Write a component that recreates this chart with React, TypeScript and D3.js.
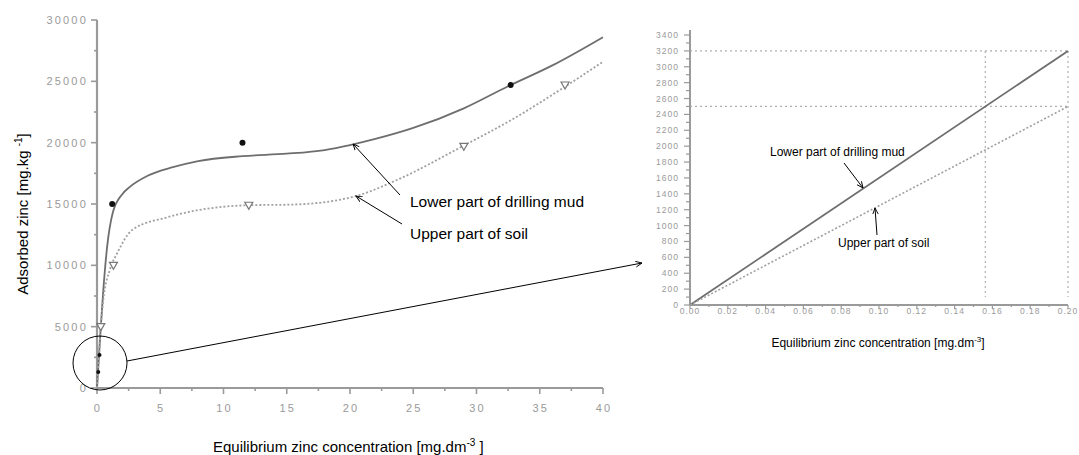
import React from "react";
import * as d3 from "d3";

// main chart: fitted curves [conc, adsorbed]
const mudCurve: [number, number][] = [
  [0, 0], [0.15, 2500], [0.3, 5000], [0.5, 8000], [0.8, 11500], [1.25, 14300],
  [2, 15800], [2.6, 16400], [4, 17300], [6, 18000], [8, 18500], [11.5, 18900],
  [15, 19100], [18, 19400], [20, 19800], [22, 20300], [25, 21200], [29, 22800],
  [32.5, 24600], [36, 26300], [40, 28600],
];
const soilCurve: [number, number][] = [
  [0, 0], [0.15, 2500], [0.3, 5000], [0.5, 7200], [1.0, 9600], [1.6, 11000],
  [2.8, 12900], [5.5, 13900], [8, 14500], [12, 14900], [15.4, 14950],
  [20.3, 15600], [23.8, 17000], [28.7, 19600], [33, 22000], [36.9, 24500],
  [40, 26600],
];
const mudPoints: [number, number][] = [[0.1, 1300], [0.2, 2700], [1.2, 15000], [11.5, 20000], [32.7, 24700]];
const soilPoints: [number, number][] = [[0.3, 5000], [1.3, 10000], [12, 14900], [29, 19700], [37, 24700]];

const xTicksL = [0, 5, 10, 15, 20, 25, 30, 35, 40];
const yTicksL = [0, 5000, 10000, 15000, 20000, 25000, 30000];

// zoomed chart (low concentrations)
const mudLine: [number, number][] = [[0, 0], [0.2, 3200]];
const soilLine: [number, number][] = [[0, 0], [0.2, 2500]];
const guideY = [3200, 2500];
const guideX = [0.15625, 0.2];
const xTicksR = d3.range(0, 0.2001, 0.02);
const yTicksR = d3.range(0, 3401, 200);

const font = "Arial, 'Liberation Sans', sans-serif";
const axisCol = "#9a9a9a";
const tickCol = "#9a9a9a";

export default function App() {
  const xL = d3.scaleLinear().domain([0, 40]).range([97, 603]);
  const yL = d3.scaleLinear().domain([0, 30000]).range([388, 20]);
  const xR = d3.scaleLinear().domain([0, 0.2]).range([690, 1068]);
  const yR = d3.scaleLinear().domain([0, 3400]).range([305, 35]);

  const lineL = d3.line<[number, number]>().x(d => xL(d[0])).y(d => yL(d[1])).curve(d3.curveMonotoneX);
  const lineR = d3.line<[number, number]>().x(d => xR(d[0])).y(d => yR(d[1]));

  const tri = (cx: number, cy: number) =>
    `M${cx - 4},${cy - 3}L${cx + 4},${cy - 3}L${cx},${cy + 4}Z`;

  return (
    <svg width={1079} height={455} style={{ position: "absolute", left: 0, top: 0 }} fontFamily={font}>
      <defs>
        <marker id="ah" viewBox="0 0 10 10" refX="9" refY="5" markerWidth="7" markerHeight="7" orient="auto-start-reverse">
          <path d="M0,1 L9,5 L0,9" fill="none" stroke="#000" strokeWidth="1.3" />
        </marker>
      </defs>

      {/* ---------- left chart ---------- */}
      <line x1={97} x2={97} y1={yL(30000)} y2={yL(0)} stroke={axisCol} strokeWidth={2.2} />
      <line x1={97} x2={xL(40)} y1={yL(0)} y2={yL(0)} stroke={axisCol} strokeWidth={2.2} />
      {d3.range(0, 30001, 2500).map(v => (
        <line key={"yl" + v} x1={97} x2={v % 5000 === 0 ? 91 : 94} y1={yL(v)} y2={yL(v)} stroke={axisCol} strokeWidth={1.6} />
      ))}
      {d3.range(0, 40.01, 2.5).map(v => (
        <line key={"xl" + v} x1={xL(v)} x2={xL(v)} y1={yL(0)} y2={yL(0) + (v % 5 === 0 ? 6 : 3)} stroke={axisCol} strokeWidth={1.6} />
      ))}
      {yTicksL.map(v => (
        <text key={"ylt" + v} x={88} y={yL(v)} dy="0.35em" textAnchor="end" fontSize={11} letterSpacing={2.2} fill={tickCol}>{v}</text>
      ))}
      {xTicksL.map(v => (
        <text key={"xlt" + v} x={xL(v) + 1} y={412} textAnchor="middle" fontSize={11} letterSpacing={2.2} fill={tickCol}>{v}</text>
      ))}

      <path d={lineL(mudCurve) || ""} fill="none" stroke="#6e6e6e" strokeWidth={1.8} />
      <path d={lineL(soilCurve) || ""} fill="none" stroke="#a0a0a0" strokeWidth={1.8} strokeDasharray="2,2" />
      {mudPoints.map((p, i) => (
        <circle key={"mp" + i} cx={xL(p[0])} cy={yL(p[1])} r={p[1] < 4000 ? 2 : 3} fill="#111" />
      ))}
      {soilPoints.map((p, i) => (
        <path key={"sp" + i} d={tri(xL(p[0]), yL(p[1]))} fill="#fff" stroke="#777" strokeWidth={1.2} />
      ))}

      <line x1={400} y1={195} x2={353} y2={144} stroke="#000" strokeWidth={1} markerEnd="url(#ah)" />
      <line x1={402} y1={224} x2={356} y2={196} stroke="#000" strokeWidth={1} markerEnd="url(#ah)" />
      <text x={410} y={207} fontSize={15.5} fill="#000">Lower part of drilling mud</text>
      <text x={410} y={239} fontSize={15.5} fill="#000">Upper part of soil</text>

      <circle cx={100} cy={363} r={27} fill="none" stroke="#000" strokeWidth={1} />
      <line x1={127} y1={361} x2={642} y2={263} stroke="#000" strokeWidth={1} markerEnd="url(#ah)" />

      <text x={213} y={452} textAnchor="start" fontSize={15} fill="#000">
        Equilibrium zinc concentration [mg.dm<tspan dy={-6} fontSize={10}>-3</tspan><tspan dy={6}> ]</tspan>
      </text>
      <text transform="translate(28,214) rotate(-90)" textAnchor="middle" fontSize={15} fill="#000">
        Adsorbed zinc [mg.kg <tspan dy={-6} fontSize={10}>-1</tspan><tspan dy={6}>]</tspan>
      </text>

      {/* ---------- right chart ---------- */}
      {guideY.map(v => (
        <line key={"gy" + v} x1={xR(0)} x2={xR(0.2)} y1={yR(v)} y2={yR(v)} stroke="#b0b0b0" strokeWidth={1.2} strokeDasharray="2,3" />
      ))}
      {guideX.map(v => (
        <line key={"gx" + v} x1={xR(v)} x2={xR(v)} y1={yR(3200)} y2={yR(0) - 8} stroke="#b0b0b0" strokeWidth={1.2} strokeDasharray="2,3" />
      ))}
      <line x1={690} x2={690} y1={30} y2={yR(0)} stroke={axisCol} strokeWidth={2} />
      <line x1={690} x2={1068} y1={yR(0)} y2={yR(0)} stroke={axisCol} strokeWidth={2} />
      {d3.range(0, 3401, 100).map(v => (
        <line key={"yr" + v} x1={690} x2={v % 200 === 0 ? 684 : 686} y1={yR(v)} y2={yR(v)} stroke={axisCol} strokeWidth={1.2} />
      ))}
      {d3.range(0, 21, 1).map(i => (
        <line key={"xr" + i} x1={xR(i / 100)} x2={xR(i / 100)} y1={yR(0)} y2={yR(0) + (i % 2 === 0 ? 4 : 2)} stroke={axisCol} strokeWidth={1.2} />
      ))}
      {yTicksR.map(v => (
        <text key={"yrt" + v} x={679} y={yR(v)} dy="0.35em" textAnchor="end" fontSize={8.5} letterSpacing={1} fill={tickCol}>{v}</text>
      ))}
      {xTicksR.map(v => (
        <text key={"xrt" + v} x={xR(v)} y={314} textAnchor="middle" fontSize={8.5} letterSpacing={1} fill={tickCol}>{v.toFixed(2)}</text>
      ))}

      <path d={lineR(mudLine) || ""} fill="none" stroke="#6e6e6e" strokeWidth={1.8} />
      <path d={lineR(soilLine) || ""} fill="none" stroke="#a0a0a0" strokeWidth={1.6} strokeDasharray="2,2" />

      <text x={770} y={156} fontSize={12} fill="#000">Lower part of drilling mud</text>
      <line x1={844} y1={163} x2={863} y2={188} stroke="#000" strokeWidth={1} markerEnd="url(#ah)" />
      <text x={838} y={247} fontSize={12} fill="#000">Upper part of soil</text>
      <line x1={877} y1={235} x2={875} y2={208} stroke="#000" strokeWidth={1} markerEnd="url(#ah)" />

      <text x={878} y={347} textAnchor="middle" fontSize={12} fill="#000">
        Equilibrium zinc concentration [mg.dm<tspan dy={-5} fontSize={8}>-3</tspan><tspan dy={5}>]</tspan>
      </text>
    </svg>
  );
}
